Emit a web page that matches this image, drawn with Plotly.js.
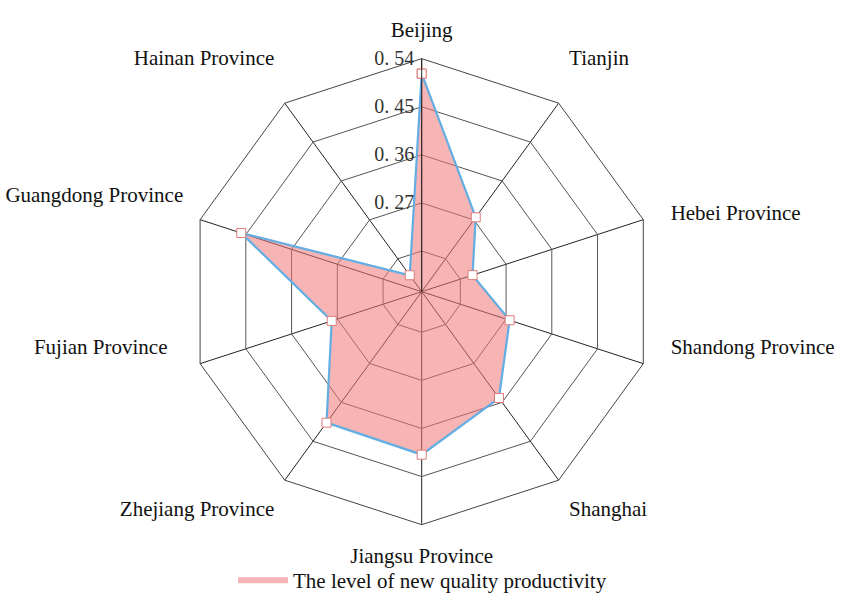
<!DOCTYPE html>
<html>
<head>
<meta charset="utf-8">
<script src="https://cdn.plot.ly/plotly-3.0.1.min.js"></script>
<style>html,body{margin:0;padding:0;background:#fff;}#chart{width:845px;height:601px;}</style>
</head>
<body>
<div id="chart"></div>
<script>
const categories = ["Beijing", "Tianjin", "Hebei Province", "Shandong Province", "Shanghai",
  "Jiangsu Province", "Zhejiang Province", "Fujian Province", "Guangdong Province", "Hainan Province"];
const values = [0.512, 0.276, 0.204, 0.277, 0.350, 0.409, 0.407, 0.281, 0.459, 0.142];
const seriesName = "The level of new quality productivity";
const radialTickVals = [0.18, 0.27, 0.36, 0.45, 0.54];
const radialTickText = ["", "0. 27", "0. 36", "0. 45", "0. 54"];

// angular label text; blank lines / spaces only nudge label placement
const NB = "\u00a0";
const labelText = categories.map(function (c) {
  if (c === "Shandong Province") return NB + NB + c + "<br> <br> <br> ";
  if (c === "Fujian Province") return c + NB + NB + NB + "<br> <br> <br> ";
  if (c === "Guangdong Province" || c === "Tianjin" || c === "Hainan Province") return c + "<br> ";
  if (c === "Hebei Province") return NB + NB + c;
  return c;
});

const closedCats = categories.concat([categories[0]]);
const closedVals = values.concat([values[0]]);

const traces = [
  {
    type: "scatterpolar",
    r: closedVals,
    theta: closedCats,
    mode: "none",
    fill: "toself",
    fillcolor: "rgba(238,118,118,0.55)",
    name: seriesName,
    showlegend: true,
    hoverinfo: "skip"
  },
  {
    type: "scatterpolar",
    r: closedVals,
    theta: closedCats,
    mode: "lines+markers",
    line: {color: "#62AEE4", width: 2.2},
    marker: {symbol: "square", size: 9, color: "#ffffff", line: {color: "#E07A7A", width: 1}},
    showlegend: false,
    name: seriesName
  }
];

const layout = {
  width: 845,
  height: 601,
  margin: {l: 0, r: 0, t: 0, b: 0},
  paper_bgcolor: "#ffffff",
  font: {family: "Liberation Serif, Times New Roman, serif", size: 21, color: "#111"},
  showlegend: true,
  legend: {
    orientation: "h",
    x: 0.5, xanchor: "center",
    y: 0, yanchor: "bottom",
    bgcolor: "rgba(0,0,0,0)",
    font: {family: "Liberation Serif, serif", size: 21, color: "#111"},
    itemwidth: 50
  },
  polar: {
    domain: {x: [0.2233, 0.7748], y: [0.127, 0.9024]},
    bgcolor: "#ffffff",
    gridshape: "linear",
    angularaxis: {
      type: "category",
      categoryarray: categories,
      tickmode: "array",
      tickvals: categories,
      ticktext: labelText,
      rotation: 90,
      direction: "clockwise",
      showline: true,
      linecolor: "#444",
      linewidth: 1,
      showgrid: true,
      gridcolor: "#222",
      gridwidth: 1,
      ticks: "outside",
      ticklen: 13,
      tickcolor: "rgba(0,0,0,0)",
      tickfont: {family: "Liberation Serif, serif", size: 21, color: "#111"},
      layer: "above traces"
    },
    radialaxis: {
      range: [0.104, 0.54],
      angle: 90,
      tickangle: 90,
      side: "counterclockwise",
      tickvals: radialTickVals,
      ticktext: radialTickText,
      showline: true,
      linecolor: "#222",
      linewidth: 1,
      showgrid: true,
      gridcolor: "#555",
      gridwidth: 1,
      ticks: "",
      tickfont: {family: "Liberation Serif, serif", size: 20, color: "#333"},
      layer: "above traces"
    }
  }
};

Plotly.newPlot("chart", traces, layout, {displayModeBar: false, staticPlot: true});
</script>
</body>
</html>
